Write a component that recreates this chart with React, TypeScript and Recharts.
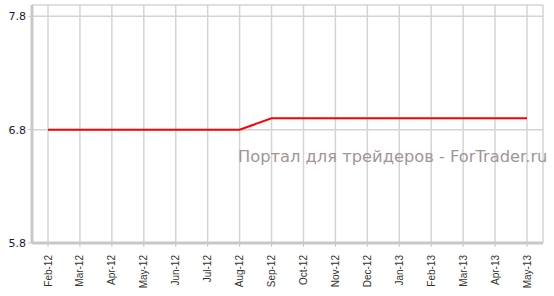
import { LineChart, Line, XAxis, YAxis, CartesianGrid } from "recharts";

const months = [
  "Feb-12", "Mar-12", "Apr-12", "May-12", "Jun-12", "Jul-12", "Aug-12", "Sep-12",
  "Oct-12", "Nov-12", "Dec-12", "Jan-13", "Feb-13", "Mar-13", "Apr-13", "May-13",
];
const rates = [6.8, 6.8, 6.8, 6.8, 6.8, 6.8, 6.8, 6.9, 6.9, 6.9, 6.9, 6.9, 6.9, 6.9, 6.9, 6.9];
const yTicks = [5.8, 6.8, 7.8];

const data = months.map((m, i) => ({ month: m, rate: rates[i] }));

function MonthTick(props: any) {
  const { x, y, payload } = props;
  return (
    <text
      x={0}
      y={0}
      transform={`translate(${x + 3.5},${y + 6}) rotate(-90)`}
      textAnchor="end"
      fontSize={10}
      fontFamily="Liberation Sans, Arial, sans-serif"
      fill="#333"
    >
      {payload.value}
    </text>
  );
}

export default function App() {
  return (
    <div style={{ position: "absolute", left: 0, top: 0, width: 554, height: 296, background: "#fff" }}>
      <LineChart width={554} height={296} data={data} margin={{ top: 5, right: 11, left: 0, bottom: 3 }}>
        <CartesianGrid stroke="#d4d4d4" strokeWidth={1.5} />
        <XAxis
          dataKey="month"
          interval={0}
          padding={{ left: 16, right: 16 }}
          height={50}
          axisLine={{ stroke: "#c8c8c8", strokeWidth: 3 }}
          tickLine={{ stroke: "#c8c8c8" }}
          tickSize={4}
          tick={<MonthTick />}
        />
        <YAxis
          domain={[5.8, 7.9]}
          ticks={yTicks}
          width={32}
          axisLine={{ stroke: "#c8c8c8", strokeWidth: 3 }}
          tickLine={{ stroke: "#c8c8c8" }}
          tickSize={4}
          tick={{ fontSize: 11, fill: "#1a1a3a", fontFamily: "DejaVu Sans, Verdana, sans-serif" }}
          tickFormatter={(v: number) => v.toFixed(1)}
        />
        <Line
          type="linear"
          dataKey="rate"
          stroke="#ff0000"
          strokeWidth={2}
          dot={false}
          isAnimationActive={false}
        />
      </LineChart>
      <div
        style={{
          position: "absolute",
          left: 238,
          top: 147,
          fontSize: 16.3,
          fontFamily: "DejaVu Sans, Verdana, sans-serif",
          color: "#a39595",
          whiteSpace: "nowrap",
        }}
      >
        Портал для трейдеров - ForTrader.ru
      </div>
    </div>
  );
}
